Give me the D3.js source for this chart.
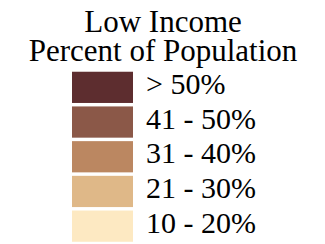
<!DOCTYPE html>
<html>
<head>
<meta charset="utf-8">
<script src="https://cdn.jsdelivr.net/npm/d3@7"></script>
<style>
  body { margin: 0; background: #fff; }
</style>
</head>
<body>
<div id="legend"></div>
<script>
const titleLines = ["Low Income", "Percent of Population"];
const classes = ["> 50%", "41 - 50%", "31 - 40%", "21 - 30%", "10 - 20%"];
const colors = ["#5d2d2f", "#8b5848", "#bb8761", "#dfb888", "#fde9c2"];

const width = 325;
const height = 244;

const svg = d3.select("#legend")
    .append("svg")
    .attr("width", width)
    .attr("height", height)
    .style("font-family", "'Liberation Serif', 'Times New Roman', serif");

// title, two centred lines
svg.selectAll(".title")
    .data(titleLines)
    .join("text")
    .attr("class", "title")
    .attr("x", 163)
    .attr("y", (d, i) => 31.5 + i * 29)
    .attr("text-anchor", "middle")
    .attr("font-size", 31)
    .text(d => d);

const y = d3.scaleBand()
    .domain(classes)
    .range([70, 243.5])
    .paddingInner(0.1)
    .paddingOuter(0.05);

const color = d3.scaleOrdinal()
    .domain(classes)
    .range(colors);

const row = svg.selectAll(".row")
    .data(classes)
    .join("g")
    .attr("class", "row")
    .attr("transform", d => `translate(0,${y(d)})`);

row.append("rect")
    .attr("x", 72)
    .attr("width", 61)
    .attr("height", y.bandwidth())
    .attr("fill", d => color(d));

row.append("text")
    .attr("x", 146)
    .attr("y", y.bandwidth() / 2)
    .attr("dy", "0.22em")
    .attr("font-size", 30)
    .text(d => d);
</script>
</body>
</html>
